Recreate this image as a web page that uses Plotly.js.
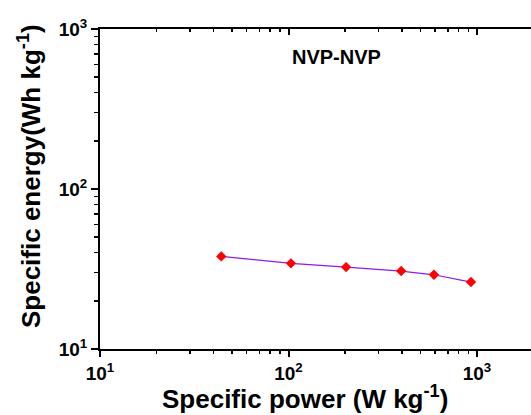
<!DOCTYPE html>
<html>
<head>
<meta charset="utf-8">
<script src="https://cdn.plot.ly/plotly-3.0.1.min.js"></script>
<style>html,body{margin:0;padding:0;background:#fff;}#chart{width:531px;height:415px;}</style>
</head>
<body>
<div id="chart"></div>
<script>
// Data
const specificPower = [44, 103, 202, 396, 591, 929];          // W kg^-1
const specificEnergy = [37.9, 34.3, 32.5, 30.7, 29.1, 26.2];  // Wh kg^-1
const seriesLabel = 'NVP-NVP';
const xTitle = 'Specific power (W kg<sup>-1</sup>)';
const yTitle = 'Specific energy(Wh kg<sup>-1</sup>)';

const xTickVals = [10, 100, 1000];
const xTickText = ['10<sup>1</sup>', '10<sup>2</sup>', '10<sup>3</sup>'];
const yTickVals = [10, 100, 1000];
const yTickText = ['10<sup>1</sup>', '10<sup>2</sup>', '10<sup>3</sup>'];
const xMinorVals = [20, 30, 40, 50, 60, 70, 80, 90, 200, 300, 400, 500, 600, 700, 800, 900];
const yMinorVals = [20, 30, 40, 50, 60, 70, 80, 90, 200, 300, 400, 500, 600, 700, 800, 900];

const FONT = 'Liberation Sans, Arial, sans-serif';

const traces = [
  {
    x: specificPower,
    y: specificEnergy,
    type: 'scatter',
    mode: 'lines+markers',
    name: seriesLabel,
    line: {color: '#8a1cf0', width: 1.2},
    marker: {symbol: 'diamond', color: '#ff0000', size: 8},
    showlegend: false
  },
  {
    // invisible copy that keeps the top (mirror) axis alive
    x: specificPower,
    y: specificEnergy,
    xaxis: 'x2',
    type: 'scatter',
    mode: 'markers',
    marker: {opacity: 0},
    hoverinfo: 'skip',
    showlegend: false
  }
];

const layout = {
  width: 531,
  height: 415,
  margin: {l: 100, r: 0, t: 29, b: 66},
  paper_bgcolor: '#fff',
  plot_bgcolor: '#fff',
  font: {family: FONT, size: 19, color: '#000', weight: 'bold'},
  showlegend: false,
  xaxis: {
    type: 'log',
    range: [1, 3.2865],
    showgrid: false,
    zeroline: false,
    showline: true,
    linecolor: '#000',
    linewidth: 2,
    ticks: 'outside',
    ticklen: 6,
    tickwidth: 2,
    tickcolor: '#000',
    tickmode: 'array',
    tickvals: xTickVals,
    ticktext: xTickText,
    tickfont: {family: FONT, size: 19, color: '#000', weight: 'bold'},
    minor: {ticks: 'outside', ticklen: 3, tickwidth: 1.5, tickcolor: '#000', tickmode: 'array', tickvals: xMinorVals, showgrid: false},
    automargin: false
  },
  xaxis2: {
    type: 'log',
    overlaying: 'x',
    side: 'top',
    anchor: 'y',
    range: [1, 3.2865],
    showgrid: false,
    zeroline: false,
    showline: true,
    linecolor: '#000',
    linewidth: 2,
    ticks: 'inside',
    ticklen: 6,
    tickwidth: 2,
    tickcolor: '#000',
    tickmode: 'array',
    tickvals: xTickVals,
    ticktext: xTickText,
    showticklabels: false,
    minor: {ticks: 'inside', ticklen: 3, tickwidth: 1.5, tickcolor: '#000', tickmode: 'array', tickvals: xMinorVals, showgrid: false},
    automargin: false
  },
  yaxis: {
    type: 'log',
    range: [1, 3],
    showgrid: false,
    zeroline: false,
    showline: true,
    linecolor: '#000',
    linewidth: 2,
    ticks: 'outside',
    ticklen: 7,
    tickwidth: 2,
    tickcolor: '#000',
    tickmode: 'array',
    tickvals: yTickVals,
    ticktext: yTickText,
    tickfont: {family: FONT, size: 19, color: '#000', weight: 'bold'},
    minor: {ticks: 'outside', ticklen: 4, tickwidth: 1.5, tickcolor: '#000', tickmode: 'array', tickvals: yMinorVals, showgrid: false},
    automargin: false
  },
  annotations: [
    {
      text: seriesLabel,
      xref: 'paper', yref: 'paper',
      x: 0.5476, y: 0.9125,
      xanchor: 'center', yanchor: 'middle',
      showarrow: false,
      font: {family: FONT, size: 20, color: '#000', weight: 'bold'}
    },
    {
      text: xTitle,
      xref: 'paper', yref: 'paper',
      x: 0.4756, y: -0.15,
      xanchor: 'center', yanchor: 'middle',
      showarrow: false,
      font: {family: FONT, size: 26, color: '#000', weight: 'bold'}
    },
    {
      text: yTitle,
      xref: 'paper', yref: 'paper',
      x: -0.1647, y: 0.5406,
      xanchor: 'center', yanchor: 'middle',
      textangle: -90,
      showarrow: false,
      font: {family: FONT, size: 26, color: '#000', weight: 'bold'}
    }
  ]
};

Plotly.newPlot('chart', traces, layout, {displayModeBar: false, staticPlot: true});
</script>
</body>
</html>
